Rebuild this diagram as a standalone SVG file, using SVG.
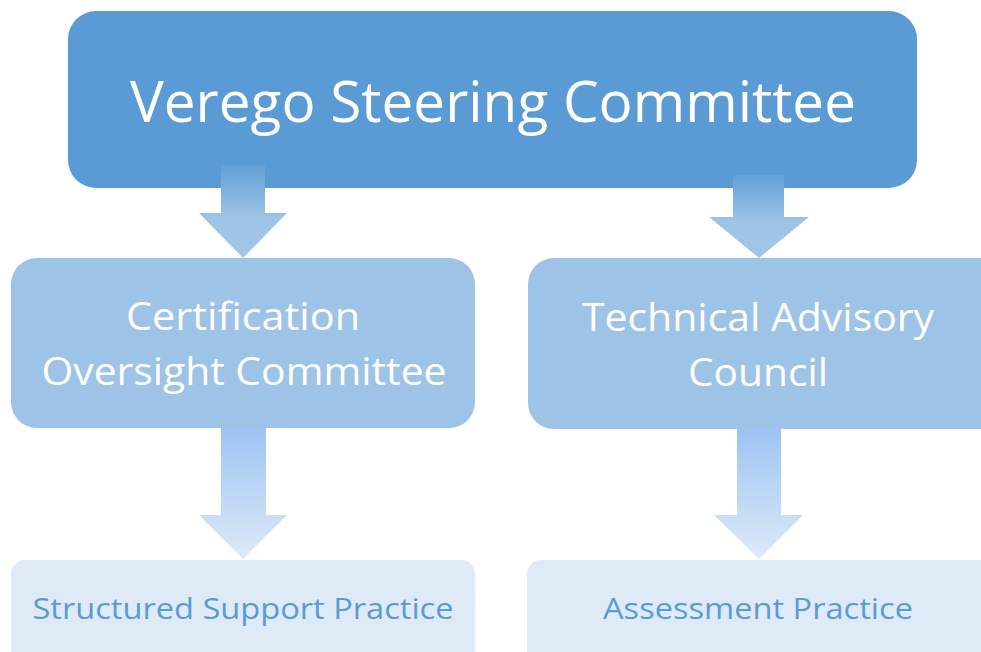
<svg xmlns="http://www.w3.org/2000/svg" width="981" height="652" viewBox="0 0 981 652">
  <defs>
    <linearGradient id="gradUpper" gradientUnits="objectBoundingBox" x1="0" y1="0" x2="0" y2="1">
      <stop offset="0" stop-color="#62A0D7"/>
      <stop offset="0.55" stop-color="#9DC3E6"/>
      <stop offset="1" stop-color="#A0C5E7"/>
    </linearGradient>
    <linearGradient id="gradLower" gradientUnits="objectBoundingBox" x1="0" y1="0" x2="0" y2="1">
      <stop offset="0" stop-color="#9CC3F2"/>
      <stop offset="1" stop-color="#DEEAF8"/>
    </linearGradient>
  </defs>
  <style>
    .lvl1 { fill: #5B9BD5; }
    .lvl2 { fill: #9DC3E6; }
    .lvl3 { fill: #DEEAF6; }
    .t1 { font-family: "Open Sans", "Noto Sans", sans-serif; font-size: 57px; fill: #FFFFFF; text-anchor: middle; }
    .t2 { font-family: "Open Sans", "Noto Sans", sans-serif; font-size: 38px; fill: #FFFFFF; text-anchor: middle; }
    .t3 { font-family: "Open Sans", "Noto Sans", sans-serif; font-size: 30px; fill: #5B9BD5; text-anchor: middle; }
  </style>
  <rect width="981" height="652" fill="#FFFFFF"/>

  <g id="steering-committee">
    <rect class="lvl1" x="68" y="11" width="849" height="177" rx="28"/>
    <text class="t1" x="493" y="122" textLength="726" lengthAdjust="spacingAndGlyphs">Verego Steering Committee</text>
  </g>

  <g id="connectors">
    <path fill="url(#gradUpper)" d="M221 165 H265 V213 H287 L243 258 L199 213 H221 Z"/>
    <path fill="url(#gradUpper)" d="M733 175 H784 V217 H809 L759 258 L709 217 H733 Z"/>
    <path fill="url(#gradLower)" d="M221 428 H266 V515 H287 L243 559 L199 515 H221 Z"/>
    <path fill="url(#gradLower)" d="M737 428 H781 V515 H803 L759 559 L714 515 H737 Z"/>
  </g>

  <g id="certification-oversight">
    <rect class="lvl2" x="11" y="258" width="464" height="170" rx="26"/>
    <text class="t2" x="243" y="330" textLength="234" lengthAdjust="spacingAndGlyphs">Certification</text>
    <text class="t2" x="244" y="385" textLength="405" lengthAdjust="spacingAndGlyphs">Oversight Committee</text>
  </g>

  <g id="technical-advisory">
    <rect class="lvl2" x="528" y="258" width="480" height="171" rx="26"/>
    <text class="t2" x="758" y="331" textLength="352" lengthAdjust="spacingAndGlyphs">Technical Advisory</text>
    <text class="t2" x="758" y="386" textLength="140" lengthAdjust="spacingAndGlyphs">Council</text>
  </g>

  <g id="structured-support">
    <rect class="lvl3" x="11" y="560" width="464" height="120" rx="14"/>
    <text class="t3" x="243" y="619" textLength="421" lengthAdjust="spacingAndGlyphs">Structured Support Practice</text>
  </g>

  <g id="assessment">
    <rect class="lvl3" x="527" y="560" width="480" height="120" rx="14"/>
    <text class="t3" x="758" y="619" textLength="310" lengthAdjust="spacingAndGlyphs">Assessment Practice</text>
  </g>
</svg>
